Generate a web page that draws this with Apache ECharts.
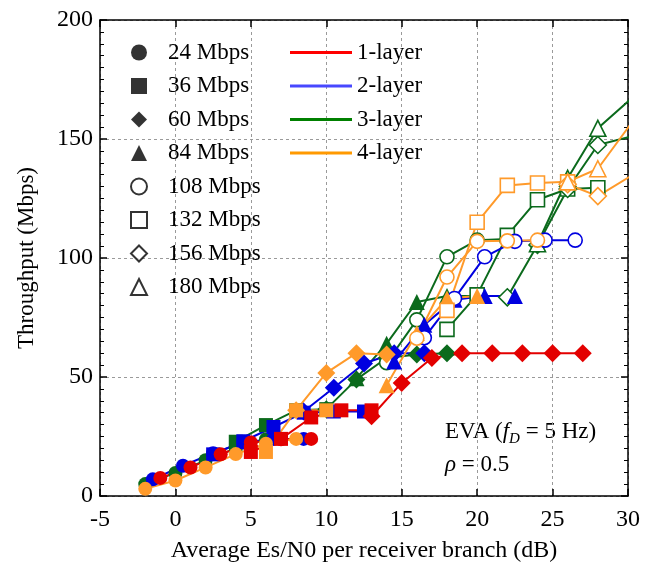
<!DOCTYPE html>
<html>
<head>
<meta charset="utf-8">
<script src="https://cdn.jsdelivr.net/npm/echarts@6/dist/echarts.min.js"></script>
<style>html,body{margin:0;padding:0;background:#fff}#c{width:651px;height:569px}</style>
</head>
<body>
<div id="c"></div>
<script>
// ---- axis ticks ----
const xTicks = [-5, 0, 5, 10, 15, 20, 25, 30];
const yTicks = [0, 50, 100, 150, 200];

// ---- legend names ----
const rateNames = ['24 Mbps', '36 Mbps', '60 Mbps', '84 Mbps', '108 Mbps', '132 Mbps', '156 Mbps', '180 Mbps'];
const layerNames = ['1-layer', '2-layer', '3-layer', '4-layer'];

// ---- 1-layer (red) : [Es/N0 dB, throughput Mbps] ----
const r24 = [[-1, 7.6], [1, 12], [3, 17.5], [5, 22.5], [7, 23.8], [9, 24]];
const r36 = [[5, 18.5], [7, 24], [9, 33], [11, 36], [13, 36]];
const r60 = [[13, 33.5], [15, 47.5], [17, 58], [19, 60], [21, 60], [23, 60], [25, 60], [27, 60]];

// ---- 2-layer (blue) ----
const b24 = [[-1.5, 7], [0.5, 12.7], [2.5, 18], [4.5, 22.5], [6.5, 24], [8.5, 24]];
const b36 = [[2.5, 17.5], [4.5, 23], [6.5, 29], [8.5, 35], [10.5, 35.5], [12.5, 35.5]];
const b60 = [[8.5, 35.5], [10.5, 45.5], [12.5, 55.7], [14.5, 60], [16.5, 60]];
const b84 = [[14.5, 56.5], [16.5, 72], [18.5, 82.5], [20.5, 84], [22.5, 84]];
const b108 = [[16.5, 66.5], [18.5, 83], [20.5, 100.5], [22.5, 107], [24.5, 107.5], [26.5, 107.5]];

// ---- 3-layer (green) ----
const g24 = [[-2, 5], [0, 9.7], [2, 15], [4, 20], [6, 23.8]];
const g36 = [[4, 22.8], [6, 29.8], [8, 36], [10, 36.5]];
const g60 = [[10, 36.5], [12, 49], [14, 58], [16, 59.5], [18, 60]];
const g84 = [[12, 49.5], [14, 64], [16, 81.5], [18, 84], [20, 84]];
const g108 = [[14, 56], [16, 74], [18, 100.5], [20, 107.5], [22, 108]];
const g132 = [[18, 70], [20, 84.5], [22, 109.5], [24, 124.5], [26, 129], [28, 129.5]];
const g156 = [[22, 83.5], [24, 105.5], [26, 129], [28, 147.5], [32, 154]];
const g180 = [[24, 106], [26, 133.5], [28, 154.5], [32, 177]];

// ---- 4-layer (orange) ----
const o24 = [[-2, 3], [0, 6.5], [2, 12], [4, 17.6], [6, 22], [8, 24]];
const o36 = [[6, 18.5], [8, 36], [10, 36]];
const o60 = [[8, 36], [10, 51.7], [12, 60], [14, 59.5]];
const o84 = [[14, 46.5], [16, 68.5], [18, 83], [20, 84]];
const o108 = [[16, 66.3], [18, 92], [20, 107], [22, 107.2], [24, 107.5]];
const o132 = [[18, 78], [20, 115], [22, 130.5], [24, 131.5], [26, 132]];
const o156 = [[26, 131], [28, 126], [32, 141.5]];
const o180 = [[26, 132], [28, 137.5], [32, 172]];

// ---- styles ----
const FONT = '"Liberation Serif", "Times New Roman", serif';
const lineColors = ['#e30000', '#0000e0', '#0b6a1c', '#ff9a2a'];
const legendLineColors = ['#ff0000', '#4848ff', '#008000', '#ff9900'];
const markerSpec = {
  '24 Mbps': { symbol: 'circle', open: false, size: 14 },
  '36 Mbps': { symbol: 'rect', open: false, size: 14 },
  '60 Mbps': { symbol: 'diamond', open: false, size: 18 },
  '84 Mbps': { symbol: 'triangle', open: false, size: 16 },
  '108 Mbps': { symbol: 'circle', open: true, size: 14 },
  '132 Mbps': { symbol: 'rect', open: true, size: 14 },
  '156 Mbps': { symbol: 'diamond', open: true, size: 17 },
  '180 Mbps': { symbol: 'triangle', open: true, size: 16 }
};

const groups = [
  { layer: 2, sets: [[g24, '24 Mbps'], [g36, '36 Mbps'], [g60, '60 Mbps'], [g84, '84 Mbps'], [g108, '108 Mbps'], [g132, '132 Mbps'], [g156, '156 Mbps'], [g180, '180 Mbps']] },
  { layer: 1, sets: [[b24, '24 Mbps'], [b36, '36 Mbps'], [b60, '60 Mbps'], [b84, '84 Mbps'], [b108, '108 Mbps']] },
  { layer: 0, sets: [[r24, '24 Mbps'], [r36, '36 Mbps'], [r60, '60 Mbps']] },
  { layer: 3, sets: [[o24, '24 Mbps'], [o36, '36 Mbps'], [o60, '60 Mbps'], [o84, '84 Mbps'], [o108, '108 Mbps'], [o132, '132 Mbps'], [o156, '156 Mbps'], [o180, '180 Mbps']] }
];

const series = [];
groups.forEach(g => {
  const col = lineColors[g.layer];
  g.sets.forEach(([data, rate]) => {
    const m = markerSpec[rate];
    series.push({
      name: layerNames[g.layer] + ' ' + rate,
      type: 'line',
      data: data,
      symbol: m.symbol,
      symbolSize: m.size,
      clip: true,
      lineStyle: { color: col, width: 2 },
      itemStyle: m.open ? { color: '#ffffff', borderColor: col, borderWidth: 1.6 } : { color: col, borderWidth: 0 },
      emphasis: { disabled: true },
      animation: false
    });
  });
});

// dummy series for legends
rateNames.forEach(n => {
  const m = markerSpec[n];
  series.push({
    name: n, type: 'scatter', data: [], symbol: m.symbol,
    itemStyle: m.open ? { color: '#fff', borderColor: '#000', borderWidth: 2 } : { color: '#000' }
  });
});
layerNames.forEach((n, i) => {
  series.push({ name: n, type: 'line', data: [], symbol: 'none', lineStyle: { color: legendLineColors[i], width: 2.5 }, itemStyle: { color: legendLineColors[i] } });
});

const option = {
  animation: false,
  backgroundColor: '#fff',
  grid: { left: 100, right: 23, top: 20, bottom: 73, containLabel: false },
  xAxis: [{
    type: 'value', min: xTicks[0], max: xTicks[xTicks.length - 1], interval: 5,
    name: 'Average Es/N0 per receiver branch (dB)', nameLocation: 'middle', nameGap: 43,
    nameTextStyle: { fontFamily: FONT, fontSize: 24, color: '#000' },
    axisLine: { onZero: false, lineStyle: { color: '#000', width: 1.5 } },
    axisTick: { inside: true, length: 7, lineStyle: { color: '#000', width: 1.5 } },
    axisLabel: { fontFamily: FONT, fontSize: 24, color: '#000', margin: 12 },
    splitLine: { show: true, lineStyle: { color: '#9a9a9a', type: [3, 3], width: 1 } }
  }, {
    type: 'value', position: 'top', min: xTicks[0], max: xTicks[xTicks.length - 1], interval: 5,
    axisLine: { show: true, onZero: false, lineStyle: { color: '#000', width: 1.5 } },
    axisTick: { show: true, inside: true, length: 7, lineStyle: { color: '#000', width: 1.5 } },
    axisLabel: { show: false }, splitLine: { show: false }
  }],
  yAxis: [{
    type: 'value', min: yTicks[0], max: yTicks[yTicks.length - 1], interval: 50,
    name: 'Throughput (Mbps)', nameLocation: 'middle', nameGap: 62,
    nameTextStyle: { fontFamily: FONT, fontSize: 23, color: '#000' },
    axisLine: { show: true, onZero: false, lineStyle: { color: '#000', width: 1.5 } },
    axisTick: { show: true, inside: true, length: 7, lineStyle: { color: '#000', width: 1.5 } },
    minorTick: { show: true, splitNumber: 10, length: 4, lineStyle: { color: '#000', width: 1 } },
    axisLabel: { fontFamily: FONT, fontSize: 24, color: '#000', margin: 7 },
    splitLine: { show: true, lineStyle: { color: '#9a9a9a', type: [3, 3], width: 1 } }
  }, {
    type: 'value', position: 'right', min: yTicks[0], max: yTicks[yTicks.length - 1], interval: 50,
    axisLine: { show: true, onZero: false, lineStyle: { color: '#000', width: 1.5 } },
    axisTick: { show: true, inside: true, length: 7, lineStyle: { color: '#000', width: 1.5 } },
    minorTick: { show: true, splitNumber: 10, length: 4, lineStyle: { color: '#000', width: 1 } },
    axisLabel: { show: false }, splitLine: { show: false }
  }],
  legend: [{
    orient: 'vertical', left: 125, top: 36,
    itemWidth: 16, itemHeight: 16, itemGap: 10.5,
    formatter: n => '{sp|}{t|' + n + '}',
    textStyle: {
      fontFamily: FONT, fontSize: 23, color: '#000',
      rich: { sp: { width: 16 }, t: { fontFamily: FONT, fontSize: 23, color: '#000' } }
    },
    selectedMode: false,
    data: rateNames.map(n => {
      const m = markerSpec[n];
      return {
        name: n, icon: m.symbol,
        itemStyle: m.open ? { color: '#fff', borderColor: '#000', borderWidth: 2 } : { color: '#000', borderWidth: 0 }
      };
    })
  }, {
    orient: 'vertical', left: 285, top: 36,
    itemWidth: 62, itemHeight: 3, itemGap: 10.5,
    textStyle: { fontFamily: FONT, fontSize: 23, color: '#000' },
    selectedMode: false,
    data: layerNames.map(n => ({ name: n, icon: 'rect' }))
  }],
  graphic: [{
    type: 'text', left: 445, top: 420, silent: true,
    style: {
      text: '{n|EVA (}{i|f}{s|D}{n| = 5 Hz)}',
      rich: {
        n: { fontFamily: FONT, fontSize: 23, fill: '#000', lineHeight: 30 },
        i: { fontFamily: FONT, fontSize: 23, fontStyle: 'italic', fill: '#000', lineHeight: 30 },
        s: { fontFamily: FONT, fontSize: 15, fontStyle: 'italic', fill: '#000', lineHeight: 12, verticalAlign: 'bottom' }
      }
    }
  }, {
    type: 'text', left: 445, top: 453, silent: true,
    style: {
      text: '{i|ρ}{n| = 0.5}',
      rich: {
        n: { fontFamily: FONT, fontSize: 23, fill: '#000' },
        i: { fontFamily: FONT, fontSize: 23, fontStyle: 'italic', fill: '#000' }
      }
    }
  }],
  series: series
};

const chart = echarts.init(document.getElementById('c'), null, { renderer: 'canvas' });
chart.setOption(option);
</script>
</body>
</html>
